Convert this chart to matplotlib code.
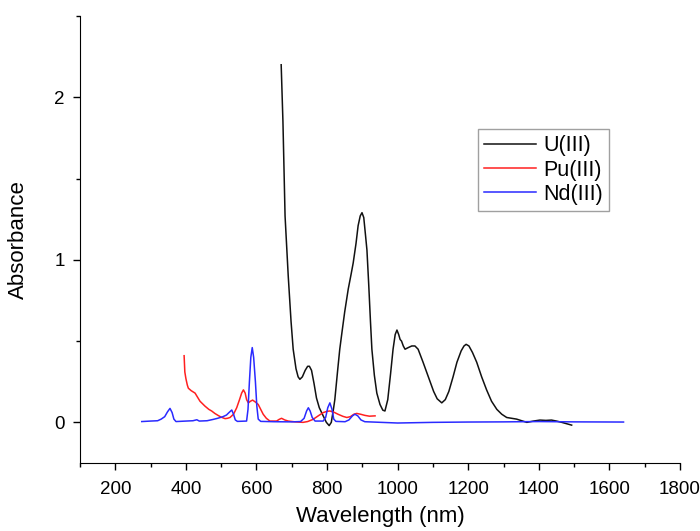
import matplotlib
matplotlib.use("Agg")
import matplotlib.pyplot as plt
from matplotlib.ticker import MultipleLocator

plt.rcParams['font.family'] = ['Liberation Sans', 'DejaVu Sans']

u_wl = [670, 675, 681, 690, 698, 704, 712, 718, 723, 730, 738, 745, 750, 756, 763, 770, 778, 789, 798, 806,
        812, 818, 822, 830, 836, 842, 850, 860, 868, 874, 882, 888, 894, 899, 904, 909, 913, 918, 923, 927,
        934, 941, 950, 958, 964, 972, 980, 987, 993, 998, 1003, 1007, 1011, 1016, 1021, 1030, 1040, 1049,
        1058, 1065, 1072, 1082, 1092, 1102, 1112, 1125, 1135, 1145, 1157, 1168, 1180, 1188, 1194, 1202,
        1212, 1224, 1238, 1252, 1266, 1281, 1295, 1309, 1337, 1366, 1385, 1403, 1420, 1436, 1450, 1465, 1493]
u_abs = [2.20, 1.85, 1.27, 0.90, 0.62, 0.45, 0.33, 0.28, 0.265, 0.28, 0.32, 0.345, 0.345, 0.32, 0.24, 0.15,
         0.09, 0.04, 0.00, -0.02, 0.00, 0.08, 0.14, 0.32, 0.45, 0.55, 0.68, 0.82, 0.91, 0.98, 1.10, 1.21,
         1.27, 1.29, 1.26, 1.15, 1.06, 0.85, 0.62, 0.45, 0.29, 0.18, 0.11, 0.075, 0.07, 0.14, 0.30, 0.45,
         0.54, 0.568, 0.54, 0.51, 0.50, 0.47, 0.45, 0.46, 0.47, 0.47, 0.45, 0.41, 0.37, 0.31, 0.25, 0.19,
         0.145, 0.12, 0.14, 0.19, 0.28, 0.37, 0.44, 0.47, 0.48, 0.47, 0.43, 0.37, 0.28, 0.20, 0.13, 0.08,
         0.05, 0.03, 0.02, 0.00, 0.008, 0.014, 0.012, 0.014, 0.008, 0.0, -0.017]

pu_wl = [395, 397, 400, 404, 407, 415, 426, 433, 440, 454, 465, 473, 482, 491, 500, 511, 518, 525, 535, 544,
         552, 558, 563, 568, 572, 577, 583, 589, 597, 605, 612, 619, 628, 638, 657, 664, 671, 680, 690, 710,
         732, 745, 760, 775, 789, 800, 808, 820, 831, 845, 856, 866, 876, 884, 895, 907, 920, 936]
pu_abs = [0.41, 0.31, 0.27, 0.23, 0.21, 0.195, 0.18, 0.155, 0.13, 0.10, 0.08, 0.07, 0.055, 0.043, 0.032,
          0.023, 0.025, 0.03, 0.05, 0.09, 0.14, 0.18, 0.20, 0.18, 0.14, 0.12, 0.13, 0.137, 0.125, 0.11,
          0.08, 0.05, 0.025, 0.008, 0.008, 0.018, 0.025, 0.015, 0.008, 0.003, 0.0, 0.005, 0.018, 0.04,
          0.06, 0.068, 0.07, 0.062, 0.05, 0.037, 0.03, 0.035, 0.05, 0.055, 0.05, 0.043, 0.038, 0.04]

nd_wl = [275, 300, 320, 330, 340, 348, 355, 361, 366, 372, 400, 420, 431, 438, 460, 477, 490, 505, 515, 522,
         530, 535, 540, 546, 572, 576, 580, 584, 588, 592, 597, 601, 605, 612, 650, 700, 725, 735, 742, 747,
         752, 758, 766, 789, 796, 802, 808, 814, 819, 825, 851, 862, 872, 879, 887, 896, 907, 1000, 1100,
         1200, 1300, 1400, 1500, 1640]
nd_abs = [0.005, 0.008, 0.01, 0.02, 0.035, 0.065, 0.086, 0.06, 0.02, 0.005, 0.008, 0.01, 0.016, 0.008, 0.01,
          0.018, 0.025, 0.035, 0.045, 0.06, 0.076, 0.05, 0.015, 0.006, 0.008, 0.08, 0.25, 0.40, 0.46, 0.40,
          0.25, 0.10, 0.02, 0.006, 0.004, 0.003, 0.005, 0.025, 0.07, 0.09, 0.07, 0.03, 0.008, 0.008, 0.03,
          0.09, 0.12, 0.08, 0.02, 0.006, 0.004, 0.015, 0.04, 0.05, 0.04, 0.015, 0.004, -0.004, 0.0, 0.002,
          0.003, 0.005, 0.003, 0.002]

labels = ['U(III)', 'Pu(III)', 'Nd(III)']
x_ticks = [200, 400, 600, 800, 1000, 1200, 1400, 1600, 1800]

fig = plt.figure(figsize=(7.0, 5.31), dpi=100)
ax = fig.add_axes([80/700, 1 - 463/531, 600/700, 447/531])

ax.plot(u_wl, u_abs, color='#111111', lw=1.1, label=labels[0])
ax.plot(pu_wl, pu_abs, color='#ff2020', lw=1.1, label=labels[1])
ax.plot(nd_wl, nd_abs, color='#2a2aff', lw=1.1, label=labels[2])

ax.xaxis.set_minor_locator(MultipleLocator(100))
ax.yaxis.set_major_locator(MultipleLocator(1))
ax.yaxis.set_minor_locator(MultipleLocator(0.5))
ax.set_xticks(x_ticks)
ax.set_xlim(100, 1800)
ax.set_ylim(-0.25, 2.5)
ax.spines['top'].set_visible(False)
ax.spines['right'].set_visible(False)
ax.tick_params(which='major', direction='out', length=5, width=1, labelsize=13.5)
ax.tick_params(axis='x', which='major', pad=8)
ax.tick_params(axis='y', which='major', pad=6)
ax.tick_params(which='minor', direction='out', length=3, width=1)

ax.set_xlabel('Wavelength (nm)', fontsize=16, labelpad=6)
ax.set_ylabel('Absorbance', fontsize=16, labelpad=18)

leg = ax.legend(loc='upper left', bbox_to_anchor=(478/700, 1 - 129/531), bbox_transform=fig.transFigure,
                fontsize=15.5, frameon=True, fancybox=False, handlelength=2.4, borderpad=0.3,
                labelspacing=0.15, handletextpad=0.33, borderaxespad=0)
leg.get_frame().set_edgecolor('#888888')
leg.get_frame().set_linewidth(1.0)

fig.savefig('out.png', dpi=100)
